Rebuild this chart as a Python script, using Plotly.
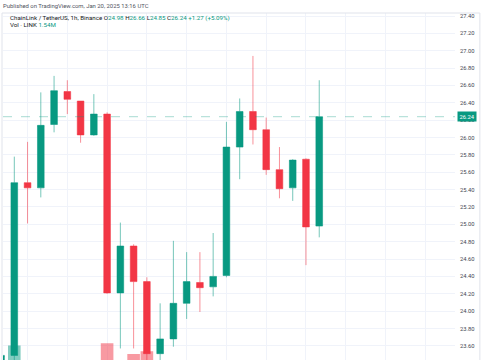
import pandas as pd
import plotly.graph_objects as go

# ---- data (hourly LINK/USDT candles, Binance) ----
times = pd.date_range("2025-01-19 13:00", periods=25, freq="h")
opens  = [23.20, 23.49, 25.48, 25.42, 26.15, 26.53, 26.42, 26.03, 26.27, 24.21, 24.75, 24.34, 23.51,
          23.68, 24.09, 24.33, 24.28, 24.41, 25.89, 26.30, 26.09, 25.63, 25.42, 25.75, 24.98]
highs  = [23.52, 25.78, 25.95, 26.52, 26.71, 26.66, 26.42, 26.50, 26.29, 25.02, 24.77, 24.39, 24.09,
          24.81, 24.68, 24.68, 24.90, 26.18, 26.45, 26.94, 26.23, 25.89, 25.75, 25.76, 26.66]
lows   = [23.10, 23.30, 25.01, 25.31, 26.06, 26.27, 25.94, 26.02, 24.20, 23.57, 23.57, 23.40, 23.35,
          23.59, 23.91, 23.99, 24.17, 24.39, 25.52, 25.92, 25.57, 25.30, 25.27, 24.53, 24.85]
closes = [23.49, 25.48, 25.42, 26.14, 26.54, 26.44, 26.03, 26.27, 24.21, 24.75, 24.34, 23.51, 23.68,
          24.09, 24.34, 24.27, 24.40, 25.89, 26.30, 26.09, 25.63, 25.41, 25.74, 24.97, 26.24]
volumes_m = [1.10, 2.36, 1.30, 1.60, 1.50, 0.90, 1.20, 0.80, 2.42, 1.90, 2.15, 2.22, 1.70,
             1.40, 1.20, 0.70, 0.90, 1.95, 1.50, 1.60, 1.30, 0.90, 0.80, 1.40, 1.54]
price_ticks = [23.6, 23.8, 24.0, 24.2, 24.4, 24.6, 24.8, 25.0, 25.2, 25.4, 25.6, 25.8, 26.0,
               26.2, 26.4, 26.6, 26.8, 27.0, 27.2, 27.4]
last_price = 26.24

GREEN = "#089981"
RED = "#F23645"
FONT = "Roboto"

vol_colors = ["rgba(8,153,129,0.5)" if c >= o else "rgba(242,54,69,0.5)" for o, c in zip(opens, closes)]

fig = go.Figure()
fig.add_trace(go.Bar(
    x=times, y=volumes_m, marker=dict(color=vol_colors, line=dict(width=0)),
    width=0.95 * 3600000, yaxis="y", hoverinfo="skip", showlegend=False,
))
fig.add_trace(go.Candlestick(
    x=times, open=opens, high=highs, low=lows, close=closes, yaxis="y2",
    increasing=dict(line=dict(color="rgba(8,153,129,0.55)", width=1), fillcolor=GREEN),
    decreasing=dict(line=dict(color="rgba(242,54,69,0.55)", width=1), fillcolor=RED),
    whiskerwidth=0, showlegend=False,
))

t0 = times[0]
x_left = t0 + pd.Timedelta(hours=0.148)
x_right = t0 + pd.Timedelta(hours=34.24)

grid = "#f0f3fa"
fig.update_layout(
    width=485, height=360,
    margin=dict(l=3, r=30, t=13, b=0),
    paper_bgcolor="white", plot_bgcolor="white",
    font=dict(family=FONT, size=6, color="#131722"),
    boxgap=0.28,
    xaxis=dict(type="date", range=[x_left, x_right], showticklabels=False, ticks="",
               showgrid=True, gridcolor=grid, gridwidth=1, tick0="2025-01-19 00:00",
               dtick=3 * 3600000, zeroline=False, showline=False,
               rangeslider=dict(visible=False), fixedrange=True),
    yaxis=dict(range=[2.0, 10.675], visible=False, showgrid=False, zeroline=False),
    yaxis2=dict(overlaying="y", side="right", range=[23.437, 27.4346],
                tickvals=price_ticks, ticktext=[f"{v:.2f}" for v in price_ticks],
                showgrid=True, gridcolor=grid, gridwidth=1, zeroline=False, showline=False,
                ticks="", ticklabelstandoff=4, automargin=False,
                tickfont=dict(family=FONT, size=5.8, color="#434651")),
)

# last-price dashed line & label
fig.add_shape(type="line", xref="paper", yref="y2", x0=0, x1=1, y0=last_price, y1=last_price,
              line=dict(color="rgba(8,153,129,0.35)", width=1, dash="dash"))
fig.add_annotation(xref="paper", yref="y2", x=1, y=last_price, xanchor="left", yanchor="middle",
                   xshift=2, text=f"{last_price:.2f}", showarrow=False, bgcolor=GREEN,
                   borderpad=1.5, font=dict(family=FONT, size=5.8, color="white"))

# frame lines
frame = "#e0e3eb"
fig.add_shape(type="line", xref="paper", yref="paper", x0=-0.0022, x1=1.055, y0=1, y1=1,
              line=dict(color=frame, width=1))
fig.add_shape(type="line", xref="paper", yref="paper", x0=-0.0022, x1=-0.0022, y0=0, y1=1,
              line=dict(color=frame, width=1))
fig.add_shape(type="line", xref="paper", yref="paper", x0=1.055, x1=1.055, y0=0, y1=1,
              line=dict(color=frame, width=1))

# header texts
def py(pix):
    return (360 - pix) / 347.0

def px(pix):
    return (pix - 3) / 452.0

fig.add_annotation(xref="paper", yref="paper", x=px(1), y=py(6), xanchor="left", yanchor="middle",
                   showarrow=False, text="Published on TradingView.com, Jan 20, 2025 13:16 UTC",
                   font=dict(family=FONT, size=5.9, color="#50535e"))

def g(s):
    return f"<span style='color:{GREEN}'>{s}</span>"

line2 = ("ChainLink / TetherUS, 1h, Binance O" + g("24.98") + " H" + g("26.66") + " L" + g("24.85")
         + " C" + g("26.24") + " " + g("+1.27 (+5.09%)"))
fig.add_annotation(xref="paper", yref="paper", x=px(7.5), y=py(18.3), xanchor="left", yanchor="middle",
                   showarrow=False, text=line2, font=dict(family=FONT, size=6.2, color="#131722"))
fig.add_annotation(xref="paper", yref="paper", x=px(7.5), y=py(25.0), xanchor="left", yanchor="middle",
                   showarrow=False, text="Vol · LINK " + g("1.54M"),
                   font=dict(family=FONT, size=6.2, color="#131722"))

fig.write_html("out.html", config={"displayModeBar": False},
               post_script="document.body.style.margin='0';")
